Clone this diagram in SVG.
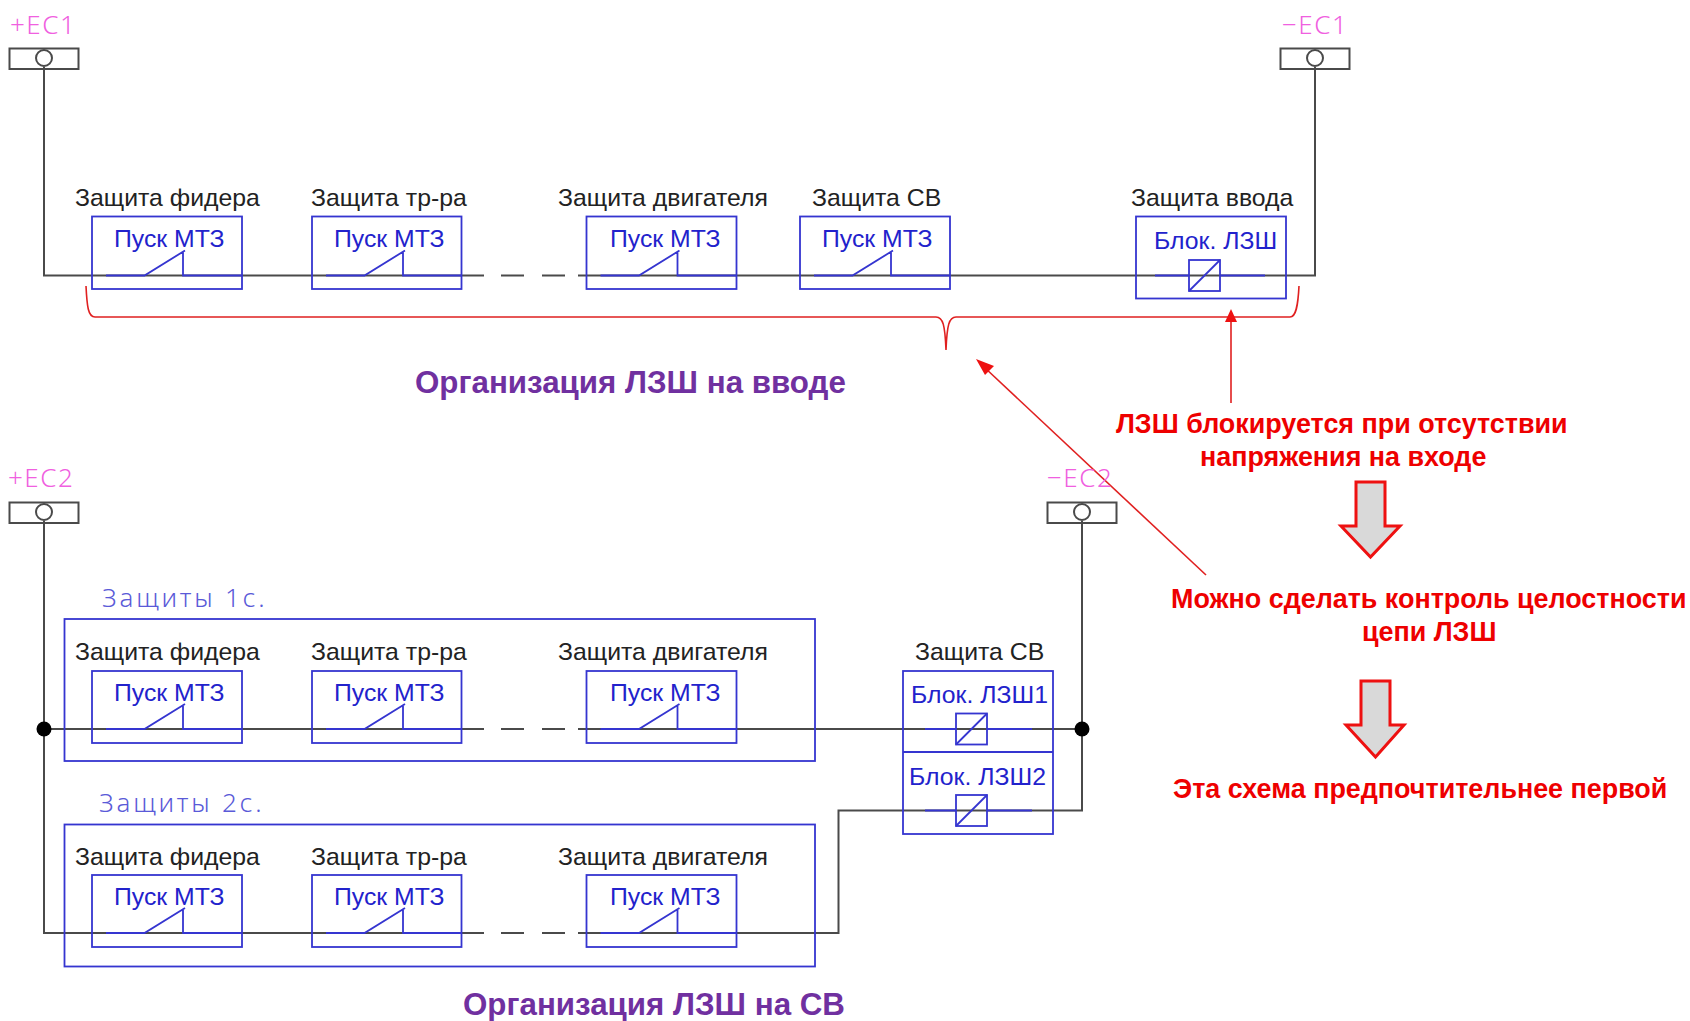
<svg xmlns="http://www.w3.org/2000/svg" xmlns:xlink="http://www.w3.org/1999/xlink" width="1690" height="1021" viewBox="0 0 1690 1021">
<style>
text{font-family:"Liberation Sans",Arial,sans-serif}
.bk{fill:none;stroke:#4a4a4a;stroke-width:2}
.bl{fill:none;stroke:#3535d0;stroke-width:1.8}
.rd{fill:none;stroke:#e02020;stroke-width:1.6}
.lb{font-size:24.800px;fill:#222}
.pb{font-size:24.800px;fill:#2222cc}
.mg{font-size:26px;fill:#f060e0;letter-spacing:1.500px;font-family:"Noto Sans",sans-serif;font-weight:300}
.gr{font-size:26px;fill:#5a5ad8;letter-spacing:2.800px;font-family:"Noto Sans",sans-serif;font-weight:300}
.ti{font-size:31.300px;font-weight:bold;fill:#7030a0}
.re{font-size:26.900px;font-weight:bold;fill:#ee0000}
.ha{fill:#d9d9d9;stroke:#ee1111;stroke-width:3}
.dot{fill:#000}
</style>
<defs>
<g id="term"><rect class="bk" x="0" y="0" width="69" height="20.500"/><circle class="bk" cx="34.500" cy="9.500" r="8"/></g>
<g id="sw"><path class="bl" d="M14 0H52.500L93 -25M91 -23V0H149.500"/></g>
<g id="sym"><rect class="bl" width="31" height="31"/><path class="bl" d="M0 31L31 0"/></g>
</defs>
<g id="wires">
<path class="bk" d="M44 67V275.500H484M501 275.500H524M542 275.500H565M578 275.500H1315V67"/>
<path class="bk" d="M44 521V933H484M501 933H524M542 933H565M578 933H838.500V810.500H1082V521"/>
<path class="bk" d="M44 729H484M501 729H524M542 729H565M578 729H1082"/>
</g>
<g id="red-connectors">
<path class="rd" d="M86 286C87 306 88 317 95 317H936C943 317 945 325 946 350C947 325 949 317 956 317H1290C1296 317 1298 306 1299 286"/>
<path class="rd" d="M1231 403V318"/>
<path d="M1231 309L1225 322H1237Z" fill="#ee1111"/>
<path class="rd" d="M1206 575L984 367"/>
<path d="M976 359L994 366L985 375Z" fill="#ee1111"/>
</g>
<g id="term-pos1"><text class="mg" x="10" y="34">+EC1</text><use href="#term" x="9.500" y="48.500"/></g>
<g id="term-neg1"><text class="mg" x="1282" y="34">−EC1</text><use href="#term" x="1280.500" y="48.500"/></g>
<g id="term-pos2"><text class="mg" x="8" y="487">+EC2</text><use href="#term" x="9.500" y="502.500"/></g>
<g id="term-neg2"><text class="mg" x="1047" y="487">−EC2</text><use href="#term" x="1047.500" y="502.500"/></g>
<g id="top-feeder"><text class="lb" x="75" y="206">Защита фидера</text><rect class="bl" x="92" y="216.500" width="150" height="72.500"/><text class="pb" x="114" y="247">Пуск МТЗ</text><use href="#sw" x="92" y="275.500"/></g>
<g id="top-trans"><text class="lb" x="311" y="206">Защита тр-ра</text><rect class="bl" x="312" y="216.500" width="149.500" height="72.500"/><text class="pb" x="334" y="247">Пуск МТЗ</text><use href="#sw" x="312" y="275.500"/></g>
<g id="top-motor"><text class="lb" x="558" y="206">Защита двигателя</text><rect class="bl" x="586.500" y="216.500" width="150" height="72.500"/><text class="pb" x="610" y="247">Пуск МТЗ</text><use href="#sw" x="586.500" y="275.500"/></g>
<g id="top-sv"><text class="lb" x="812" y="206">Защита СВ</text><rect class="bl" x="800" y="216.500" width="150" height="72.500"/><text class="pb" x="822" y="247">Пуск МТЗ</text><use href="#sw" x="800" y="275.500"/></g>
<g id="top-input"><text class="lb" x="1131" y="206">Защита ввода</text><rect class="bl" x="1136" y="216.500" width="150" height="82"/><text class="pb" x="1154" y="249">Блок. ЛЗШ</text><path class="bl" d="M1155 275.500H1189M1220 275.500H1265"/><use href="#sym" x="1189" y="260"/></g>
<g id="title1"><text class="ti" x="415" y="393">Организация ЛЗШ на вводе</text></g>
<g id="note1"><text class="re" x="1116" y="433">ЛЗШ блокируется при отсутствии</text><text class="re" x="1200" y="466">напряжения на входе</text></g>
<g id="arrow1"><path class="ha" d="M1356 482H1385V526H1400L1370.500 557L1341 526H1356Z"/></g>
<g id="note2"><text class="re" x="1171" y="608">Можно сделать контроль целостности</text><text class="re" x="1362" y="641">цепи ЛЗШ</text></g>
<g id="arrow2"><path class="ha" d="M1361 681H1390V725H1404L1375.500 757L1346 725H1361Z"/></g>
<g id="note3"><text class="re" x="1173" y="798">Эта схема предпочтительнее первой</text></g>
<g id="group1"><text class="gr" x="102" y="607">Защиты 1с.</text><rect class="bl" x="64.500" y="619" width="750.500" height="142"/></g>
<g id="g1-feeder"><text class="lb" x="75" y="660">Защита фидера</text><rect class="bl" x="92" y="671" width="150" height="72"/><text class="pb" x="114" y="701">Пуск МТЗ</text><use href="#sw" x="92" y="729"/></g>
<g id="g1-trans"><text class="lb" x="311" y="660">Защита тр-ра</text><rect class="bl" x="312" y="671" width="149.500" height="72"/><text class="pb" x="334" y="701">Пуск МТЗ</text><use href="#sw" x="312" y="729"/></g>
<g id="g1-motor"><text class="lb" x="558" y="660">Защита двигателя</text><rect class="bl" x="586.500" y="671" width="150" height="72"/><text class="pb" x="610" y="701">Пуск МТЗ</text><use href="#sw" x="586.500" y="729"/></g>
<g id="group2"><text class="gr" x="99" y="812">Защиты 2с.</text><rect class="bl" x="64.500" y="824.500" width="750.500" height="142"/></g>
<g id="g2-feeder"><text class="lb" x="75" y="865">Защита фидера</text><rect class="bl" x="92" y="875" width="150" height="72"/><text class="pb" x="114" y="905">Пуск МТЗ</text><use href="#sw" x="92" y="933"/></g>
<g id="g2-trans"><text class="lb" x="311" y="865">Защита тр-ра</text><rect class="bl" x="312" y="875" width="149.500" height="72"/><text class="pb" x="334" y="905">Пуск МТЗ</text><use href="#sw" x="312" y="933"/></g>
<g id="g2-motor"><text class="lb" x="558" y="865">Защита двигателя</text><rect class="bl" x="586.500" y="875" width="150" height="72"/><text class="pb" x="610" y="905">Пуск МТЗ</text><use href="#sw" x="586.500" y="933"/></g>
<g id="sv"><text class="lb" x="915" y="660">Защита СВ</text><rect class="bl" x="903" y="671" width="150" height="163"/><path class="bl" d="M903 752H1053"/><text class="pb" x="911" y="703">Блок. ЛЗШ1</text><path class="bl" d="M925 729H956M987 729H1032"/><use href="#sym" x="956" y="713.500"/><text class="pb" x="909" y="785">Блок. ЛЗШ2</text><path class="bl" d="M925 810.500H956M987 810.500H1032"/><use href="#sym" x="956" y="795"/></g>
<g id="dots"><circle class="dot" cx="44" cy="729" r="7.500"/><circle class="dot" cx="1082" cy="729" r="7.500"/></g>
<g id="title2"><text class="ti" x="463" y="1015">Организация ЛЗШ на СВ</text></g>
</svg>
